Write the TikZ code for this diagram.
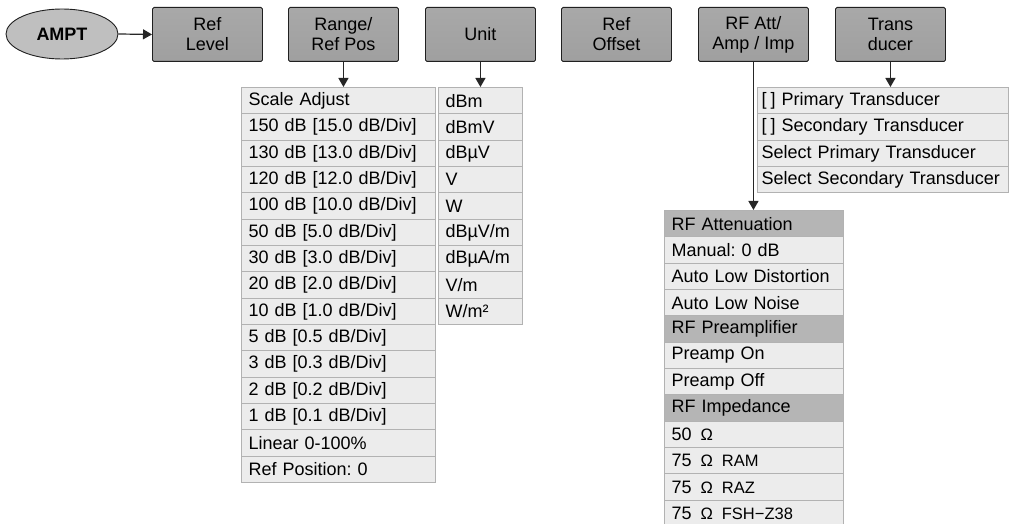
\documentclass[tikz,border=0pt]{standalone}
\usepackage{fontspec}
\setmainfont{Liberation Sans}
\usetikzlibrary{arrows.meta,shapes.geometric}
\frenchspacing
\newcommand\ohmtxt[2]{#1\hspace{9pt}{\fontsize{16.5}{18}\selectfont Ω\hspace{9pt}#2}}
\begin{document}
\begin{tikzpicture}[x=1pt,y=-1pt,
  every node/.style={font=\fontsize{18}{20}\selectfont},
  topbox/.style={rectangle, draw=gray!25!black, line width=0.9pt, rounded corners=1.5pt,
    top color=gray!68, middle color=gray!22, bottom color=gray!75,
    minimum width=110, minimum height=54, inner sep=0pt, align=center, anchor=north west},
  cell/.style={rectangle, draw=gray!60, line width=1.1pt, fill=gray!15, anchor=north west,
    minimum height=26.33, inner xsep=7, inner ysep=0pt, align=left},
  headcell/.style={cell, fill=gray!58},
  arr/.style={draw=black!85, line width=1.2pt, -{Triangle[length=9pt,width=10pt]}}
]
\useasboundingbox (0,0) rectangle (1010,524);

% root
\node[ellipse, draw=gray!25!black, line width=0.9pt, fill=gray!50, minimum width=112, minimum height=50,
  font=\fontsize{18}{20}\selectfont\bfseries] (ampt) at (62,34) {AMPT};

% top row
\node[topbox] (reflevel) at (152,7) {Ref\\Level};
\node[topbox] (range) at (288,7) {Range/\\Ref Pos};
\node[topbox] (unit) at (425,7) {Unit};
\node[topbox] (refoffset) at (561,7) {Ref\\Offset};
\node[topbox] (rfatt) at (698,7) {RF Att/\\Amp / Imp};
\node[topbox] (trans) at (835,7) {Trans\\ducer};

% Range list
\foreach \t [count=\i from 0] in {{Scale Adjust},{150 dB [15.0 dB/Div]},{130 dB [13.0 dB/Div]},
  {120 dB [12.0 dB/Div]},{100 dB [10.0 dB/Div]},{50 dB [5.0 dB/Div]},{30 dB [3.0 dB/Div]},
  {20 dB [2.0 dB/Div]},{10 dB [1.0 dB/Div]},{5 dB [0.5 dB/Div]},{3 dB [0.3 dB/Div]},
  {2 dB [0.2 dB/Div]},{1 dB [0.1 dB/Div]},{Linear 0-100\%},{Ref Position: 0}}
  \node[cell, text width=180] (sc-\i) at (241,{87+26.33*\i}) {\t};

% Unit list
\foreach \t [count=\i from 0] in {dBm,dBmV,dBµV,V,W,dBµV/m,dBµA/m,V/m,W/m²}
  \node[cell, text width=70] (un-\i) at (438,{87+26.33*\i}) {\t};

% Transducer list
\foreach \t [count=\i from 0] in {{[\hspace{4pt}] Primary Transducer},{[\hspace{4pt}] Secondary Transducer},
  {Select Primary Transducer},{Select Secondary Transducer}}
  \node[cell, inner xsep=4, text width=243] (tr-\i) at (757,{87+26.33*\i}) {\t};

% RF list
\node[headcell, text width=165] (rf-0) at (664,210) {RF Attenuation};
\node[cell, text width=165] (rf-1) at (664,236.33) {Manual: 0 dB};
\node[cell, text width=165] (rf-2) at (664,262.67) {Auto Low Distortion};
\node[cell, text width=165] (rf-3) at (664,289) {Auto Low Noise};
\node[headcell, text width=165] (rf-4) at (664,315.33) {RF Preamplifier};
\node[cell, text width=165] (rf-5) at (664,341.67) {Preamp On};
\node[cell, text width=165] (rf-6) at (664,368) {Preamp Off};
\node[headcell, text width=165] (rf-7) at (664,394.33) {RF Impedance};
\node[cell, text width=165] (rf-8) at (664,420.67) {\ohmtxt{50}{}};
\node[cell, text width=165] (rf-9) at (664,447) {\ohmtxt{75}{RAM}};
\node[cell, text width=165] (rf-10) at (664,473.33) {\ohmtxt{75}{RAZ}};
\node[cell, text width=165] (rf-11) at (664,499.67) {\ohmtxt{75}{FSH−Z38}};

% connectors
\draw[arr] (ampt.east) -- (reflevel.west);
\draw[arr] (range.south) -- (range.south |- sc-0.north);
\draw[arr] (unit.south) -- (unit.south |- un-0.north);
\draw[arr] (trans.south) -- (trans.south |- tr-0.north);
\draw[arr] (rfatt.south) -- (rfatt.south |- rf-0.north);
\end{tikzpicture}
\end{document}
